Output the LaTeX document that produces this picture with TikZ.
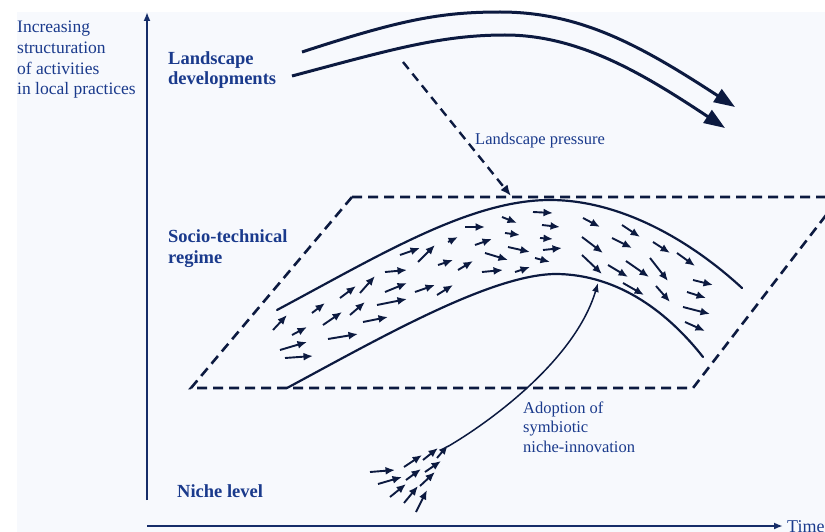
\documentclass[tikz,border=0pt]{standalone}
\usepackage{fontspec}
\setmainfont{Liberation Serif}
\usetikzlibrary{arrows.meta}
\definecolor{ink}{RGB}{12,26,64}
\definecolor{label}{RGB}{26,58,140}
\definecolor{axisblue}{RGB}{22,45,105}
\definecolor{paper}{RGB}{247,249,253}
\begin{document}
\begin{tikzpicture}[x=1pt,y=-1pt,
  lbl/.style={text=label, font=\fontsize{16.5}{19.5}\selectfont, inner sep=0pt, align=left},
  sidelbl/.style={text=label, font=\fontsize{17.5}{20.7}\selectfont, inner sep=0pt, align=left},
  title/.style={text=label, font=\fontsize{18.5}{20.5}\selectfont\bfseries, inner sep=0pt, align=left},
  axis/.style={draw=axisblue, line width=2pt, -{Latex[length=9pt,width=7pt]}},
  flow/.style={draw=ink, line width=1.9pt, -{Latex[length=9.5pt,width=8pt]}},
  band/.style={draw=ink, line width=2.2pt, line cap=round},
  trend/.style={draw=ink, line width=3pt, -{Triangle[length=21pt,width=15pt]}},
  plane/.style={draw=ink, line width=2.6pt, dash pattern=on 10pt off 6pt},
  push/.style={draw=ink, line width=2.4pt, dash pattern=on 9pt off 6pt, -{Latex[length=11pt,width=9pt]}},
  adopt/.style={draw=ink, line width=1.5pt, -{Latex[length=9pt,width=7pt]}},
]
\useasboundingbox (0,0) rectangle (825,532);
\clip (0,0) rectangle (825,532);
\fill[white] (0,0) rectangle (825,532);
\fill[paper] (17,12) rectangle (825,532);

% axes
\coordinate (yfoot) at (147,500);
\coordinate (ytop) at (147,12);
\draw[axis] (yfoot) -- (ytop);
\coordinate (xfoot) at (147,526);
\coordinate (xend) at (783,526);
\draw[axis] (xfoot) -- (xend);
\node[sidelbl, font=\fontsize{18}{20}\selectfont, anchor=base west] (time) at (787,532) {Time};

% level labels (multi-line nodes sit on the baseline of their last line)
\node[sidelbl, anchor=base west] (yaxislabel) at (17,95)
  {Increasing\\structuration\\of activities\\in local practices};
\node[title, anchor=base west] (landscape) at (168,85) {Landscape\\developments};
\node[title, anchor=base west] (regime) at (168,263) {Socio-technical\\regime};
\node[title, anchor=base west] (niche) at (177,497) {Niche level};

% landscape developments
\draw[trend] (302,52) .. controls (400,20) and (440,12) .. (500,12)
  .. controls (580,12) and (640,45) .. (735,107);
\draw[trend] (292,76) .. controls (390,50) and (440,35) .. (505,35)
  .. controls (580,35) and (645,75) .. (725,128);

% landscape pressure
\coordinate (pressfrom) at (403,62);
\coordinate (pressto) at (511,196);
\draw[push] (pressfrom) -- (pressto);
\node[lbl, anchor=base west] (pressure) at (475,145) {Landscape pressure};

% regime plane
\draw[plane] (352,197) -- (845,197) (352,197) -- (191,388) -- (693,388) -- (840,197);

% regime band
\draw[band] (277,310) .. controls (380,255) and (470,200) .. (550,200)
  .. controls (620,200) and (690,240) .. (742,288);
\draw[band] (287,388) .. controls (380,338) and (490,275) .. (555,274)
  .. controls (620,274) and (670,315) .. (703,357);

% activities inside the regime
\foreach \a/\b/\c/\d in {
  273/330/287/315, 292/335/307/327, 280/350/307/342, 285/358/313/356,
  312/313/325/303, 323/325/342/312, 328/339/358/334, 340/298/356/286,
  350/315/365/302, 360/293/375/276, 363/322/388/317, 377/305/407/299,
  385/292/407/283, 385/272/407/270,
  400/255/420/248, 418/262/435/245, 415/292/435/285, 437/295/453/285,
  438/265/453/260, 458/270/473/261, 448/242/458/237, 465/227/485/227,
  475/245/492/239, 485/253/508/260, 482/272/503/270, 502/217/517/223,
  505/233/520/235, 508/247/530/252, 515/272/530/267,
  533/212/553/213, 542/225/560/227, 540/238/553/239, 543/250/562/248,
  535/258/550/262,
  583/218/600/227, 582/237/603/253, 582/255/602/274, 622/225/640/237,
  612/238/632/248, 608/265/628/277, 626/261/649/277, 623/283/644/295,
  650/258/668/281, 653/242/670/253, 677/253/695/266, 656/286/670/302,
  693/280/713/285, 687/292/706/298, 683/307/710/314, 685/322/705/331}
  \draw[flow] (\a,\b) -- (\c,\d);

% niche activities
\foreach \a/\b/\c/\d in {
  370/472/395/470, 378/484/402/477, 390/497/406/484, 404/503/418/486,
  416/512/427/490, 406/480/421/469, 404/467/422/455, 420/486/435/472,
  425/472/441/461, 423/460/438/448, 437/458/448/445}
  \draw[flow] (\a,\b) -- (\c,\d);

% adoption of niche-innovation
\coordinate (nichestart) at (447,447);
\coordinate (adopttip) at (598,283);
\draw[adopt] (nichestart) .. controls (490,422) and (575,360) .. (adopttip);
\node[lbl, anchor=base west] (adoption) at (523,452) {Adoption of\\symbiotic\\niche-innovation};
\end{tikzpicture}
\end{document}
